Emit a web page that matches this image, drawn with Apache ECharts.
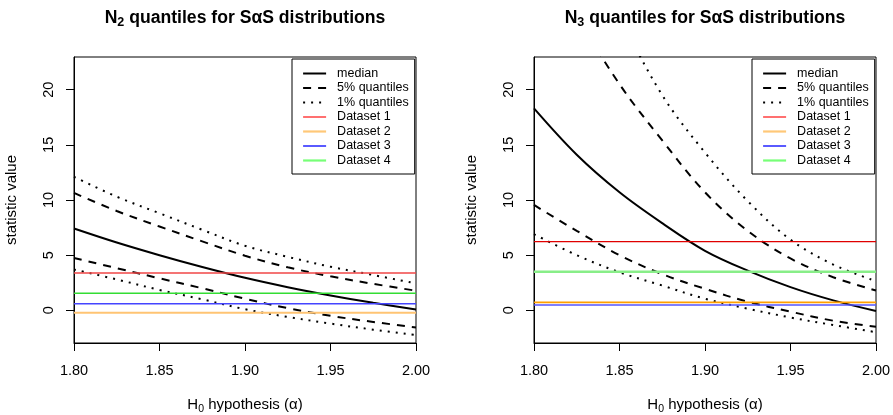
<!DOCTYPE html>
<html>
<head>
<meta charset="utf-8">
<script src="https://cdn.jsdelivr.net/npm/echarts@6/dist/echarts.min.js"></script>
<style>html,body{margin:0;padding:0;background:#fff}#c{width:893px;height:415px}</style>
</head>
<body>
<div id="c"></div>
<script>
// H0 hypothesis alpha values
var alphaVals = [1.800, 1.825, 1.850, 1.875, 1.900, 1.925, 1.950, 1.975, 2.000];
var xTicks = [1.80, 1.85, 1.90, 1.95, 2.00];
var yTicks = [0, 5, 10, 15, 20];

// N2 panel
var n2Median = [7.42, 6.15, 5.0, 3.93, 2.95, 2.1, 1.35, 0.68, 0.08];
var n2Upper5 = [10.64, 9.0, 7.6, 6.25, 4.95, 3.9, 3.08, 2.4, 1.78];
var n2Upper1 = [12.1, 10.3, 8.8, 7.3, 5.85, 4.85, 3.95, 3.2, 2.44];
var n2Lower5 = [4.75, 3.82, 2.9, 2.0, 1.05, 0.2, -0.5, -1.05, -1.55];
var n2Lower1 = [3.7, 2.8, 1.85, 1.0, 0.1, -0.6, -1.2, -1.75, -2.23];
var n2Datasets = [3.38, -0.21, 0.60, 1.54];

// N3 panel
var n3Median = [18.3, 14.1, 10.7, 7.9, 5.4, 3.6, 2.1, 0.9, -0.06];
var n3Upper5 = [34.5, 26.8, 20.5, 15.4, 10.7, 7.2, 4.7, 3.0, 1.8];
var n3Upper1 = [45, 35, 26.7, 19.5, 14.3, 9.9, 6.4, 4.15, 2.65];
var n3Lower5 = [9.55, 7.2, 5.0, 3.28, 1.95, 0.78, -0.12, -0.94, -1.48];
var n3Lower1 = [6.9, 5.0, 3.45, 2.25, 1.05, 0.15, -0.65, -1.33, -1.98];
var n3Datasets = [6.22, 0.72, 0.48, 3.49];

var datasetNames = ['Dataset 1', 'Dataset 2', 'Dataset 3', 'Dataset 4'];
var legendNames = ['median', '5% quantiles', '1% quantiles'].concat(datasetNames);

var FONT = 'Liberation Sans, Arial, Helvetica, sans-serif';
var DASH = [8, 7], DOT = [2, 6];
var panelLineColors = [
  ['#f04646', '#ffc473', '#4444ff', '#33dd33'],
  ['#e00000', '#ffa000', '#5555ff', '#88ee88']
];
var panelLineWidths = [
  [1.5, 2, 1.5, 1.5],
  [1.3, 1.6, 1.6, 2.5]
];
var legendColors = ['#f22', '#ffc878', '#00f', '#77ff77'];
var legendWidths = [1.3, 2.2, 1.3, 2.2];

function pairs(ys) { return alphaVals.map(function (a, i) { return [a, ys[i]]; }); }

var grids = [
  { left: 74, top: 57, width: 342, height: 286 },
  { left: 534, top: 57, width: 342, height: 286 }
];
grids.forEach(function (g) {
  g.show = true; g.borderColor = '#000'; g.borderWidth = 1; g.backgroundColor = 'transparent';
  g.containLabel = false; g.outerBoundsMode = 'none';
});

var xAxes = [], yAxes = [], series = [], legends = [];
var subRich = {
  n: { fontFamily: FONT, fontSize: 15, color: '#000', lineHeight: 20 },
  s: { fontFamily: FONT, fontSize: 10.5, color: '#000', lineHeight: 11, verticalAlign: 'bottom' }
};
var hiddenSymbol = { color: 'rgba(0,0,0,0)', borderWidth: 0, opacity: 0 };
[0, 1].forEach(function (p) {
  xAxes.push({
    type: 'value', gridIndex: p, min: 1.8, max: 2.0, interval: 0.05,
    axisLine: { show: true, onZero: false, lineStyle: { color: '#000', width: 1 } },
    axisTick: { show: true, length: 8, lineStyle: { color: '#000' }, customValues: xTicks },
    axisLabel: { show: true, margin: 20, fontSize: 14.5, fontFamily: FONT, color: '#000', customValues: xTicks,
      formatter: function (v) { return Number(v).toFixed(2); } },
    splitLine: { show: false },
    name: '{n|H}{s|0}{n| hypothesis (α)}', nameLocation: 'middle', nameGap: 52,
    nameTextStyle: { rich: subRich }
  });
  yAxes.push({
    type: 'value', gridIndex: p, min: -2.96, max: 22.96,
    axisLine: { show: true, onZero: false, lineStyle: { color: '#000', width: 1 } },
    axisTick: { show: true, length: 8, lineStyle: { color: '#000' }, customValues: yTicks },
    axisLabel: { show: true, rotate: 90, margin: 18, fontSize: 14.5, fontFamily: FONT, color: '#000', customValues: yTicks },
    splitLine: { show: false },
    name: 'statistic value', nameLocation: 'middle', nameGap: 55,
    nameTextStyle: { fontFamily: FONT, fontSize: 15, color: '#000' }
  });
  var d = p === 0 ? { med: n2Median, u5: n2Upper5, u1: n2Upper1, l5: n2Lower5, l1: n2Lower1, ds: n2Datasets }
                  : { med: n3Median, u5: n3Upper5, u1: n3Upper1, l5: n3Lower5, l1: n3Lower1, ds: n3Datasets };
  function curve(name, ys, type) {
    series.push({
      type: 'line', name: name, xAxisIndex: p, yAxisIndex: p, data: pairs(ys),
      smooth: 0.35, symbol: 'none', clip: true, silent: true,
      lineStyle: { color: '#000', width: 2, type: type }, itemStyle: { color: '#000' }
    });
  }
  curve('median', d.med, 'solid');
  curve('5% quantiles', d.u5, DASH);
  curve('5% quantiles', d.l5, DASH);
  curve('1% quantiles', d.u1, DOT);
  curve('1% quantiles', d.l1, DOT);
  datasetNames.forEach(function (nm, k) {
    series.push({
      type: 'line', name: nm, xAxisIndex: p, yAxisIndex: p,
      data: [[1.8, d.ds[k]], [2.0, d.ds[k]]],
      symbol: 'none', silent: true,
      lineStyle: { color: panelLineColors[p][k], width: panelLineWidths[p][k] },
      itemStyle: { color: panelLineColors[p][k] }
    });
  });
  var lx = p === 0 ? 292 : 752;
  legends.push({
    orient: 'vertical', left: lx, top: 59, itemWidth: 23, itemHeight: 14, itemGap: 1.5,
    padding: [8, 6, 7, 10], borderColor: '#000', borderWidth: 1, backgroundColor: '#fff',
    selectedMode: false,
    itemStyle: hiddenSymbol,
    textStyle: { fontFamily: FONT, fontSize: 12.5, color: '#000', padding: [0, 0, 0, 6] },
    data: legendNames.map(function (nm, k) {
      var ls;
      if (k === 0) ls = { color: '#000', width: 2, type: 'solid' };
      else if (k === 1) ls = { color: '#000', width: 2, type: DASH };
      else if (k === 2) ls = { color: '#000', width: 2, type: DOT };
      else ls = { color: legendColors[k - 3], width: legendWidths[k - 3], type: 'solid' };
      return { name: nm, lineStyle: ls, itemStyle: hiddenSymbol };
    })
  });
});

function titleText(x, sub) {
  return {
    type: 'text', x: x, y: 18,
    style: {
      text: '{b|N}{s|' + sub + '}{b| quantiles for SαS distributions}',
      align: 'center', verticalAlign: 'middle', textAlign: 'center', textVerticalAlign: 'middle',
      rich: {
        b: { fontFamily: FONT, fontSize: 17.6, fontWeight: 'bold', fill: '#000', color: '#000', lineHeight: 22 },
        s: { fontFamily: FONT, fontSize: 12.5, fontWeight: 'bold', fill: '#000', color: '#000', lineHeight: 12, verticalAlign: 'bottom' }
      }
    }
  };
}

var chart = echarts.init(document.getElementById('c'), null, { renderer: 'canvas' });
chart.setOption({
  animation: false,
  backgroundColor: '#fff',
  grid: grids,
  xAxis: xAxes,
  yAxis: yAxes,
  legend: legends,
  series: series,
  graphic: [titleText(245, '2'), titleText(705, '3')]
});
</script>
</body>
</html>
